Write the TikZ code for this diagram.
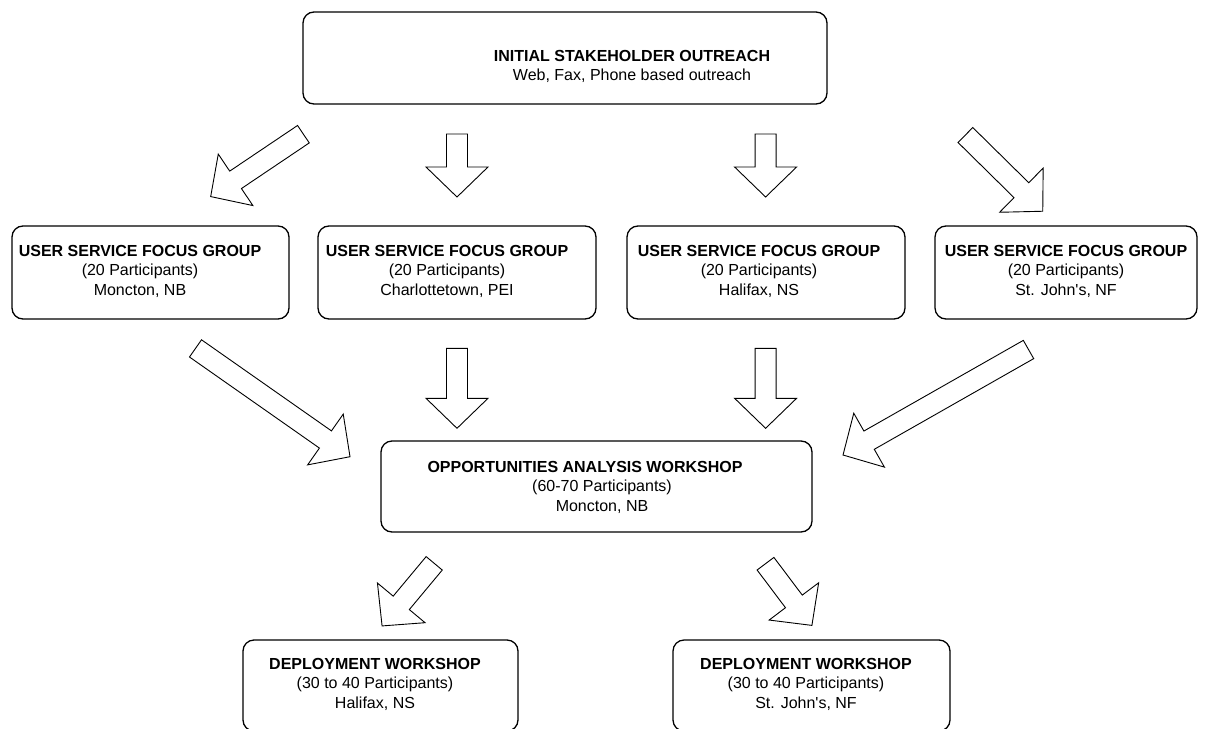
\documentclass[tikz,border=0pt]{standalone}
\usepackage{fontspec}
\setmainfont{Liberation Sans}[Ligatures=TeXOff]
\usetikzlibrary{calc}

\tikzset{
  stage/.style={draw=black, line width=1.3pt, rounded corners=11pt, inner sep=0pt},
  stagetext/.style={anchor=north, align=center, inner sep=0pt,
    font=\fontsize{16}{19.5}\selectfont},
  flowarrow/.style={draw=black, line width=0.9pt, fill=white, line join=miter},
}

% Outlined block arrow from tail centre #1 to tip #2
% (shaft 21pt wide, head 62pt wide and 30pt long)
\newcommand\blockarrow[2]{%
  \draw[flowarrow] let \p1=($(#2)-(#1)$), \n1={atan2(\y1,\x1)}, \n2={veclen(\x1,\y1)} in
    ([shift={(#1)},rotate=\n1]0pt,-10.5pt)
    -- ([shift={(#1)},rotate=\n1]{\n2*1pt-30pt},-10.5pt)
    -- ([shift={(#1)},rotate=\n1]{\n2*1pt-30pt},-31pt)
    -- ([shift={(#1)},rotate=\n1]{\n2*1pt},0pt)
    -- ([shift={(#1)},rotate=\n1]{\n2*1pt-30pt},31pt)
    -- ([shift={(#1)},rotate=\n1]{\n2*1pt-30pt},10.5pt)
    -- ([shift={(#1)},rotate=\n1]0pt,10.5pt)
    -- cycle;}

\begin{document}
\begin{tikzpicture}[x=1pt, y=-1pt]
  \useasboundingbox (0,0) rectangle (1209,728);
  \clip (0,0) rectangle (1209,728);

  % boxes
  \node[stage, minimum width=524pt, minimum height=92pt] (outreach) at (565,58) {};
  \node[stage, minimum width=277pt, minimum height=93pt] (fgM) at (150.5,272.5) {};
  \node[stage, minimum width=278pt, minimum height=93pt] (fgC) at (457,272.5) {};
  \node[stage, minimum width=278pt, minimum height=93pt] (fgH) at (766,272.5) {};
  \node[stage, minimum width=262pt, minimum height=93pt] (fgS) at (1066,272.5) {};
  \node[stage, minimum width=431pt, minimum height=91pt] (oaw) at (596.5,486.5) {};
  \node[stage, minimum width=275pt, minimum height=91pt] (dwH) at (380.5,685.5) {};
  \node[stage, minimum width=277pt, minimum height=91pt] (dwS) at (811.5,685.5) {};

  % box texts
  \node[stagetext, font=\fontsize{16}{18.5}\selectfont] (outreach-t) at (632,50.5)
    {\textbf{INITIAL STAKEHOLDER OUTREACH}\\Web, Fax, Phone based outreach};
  \node[stagetext] (fgM-t) at (140,245)
    {\textbf{USER SERVICE FOCUS GROUP}\\(20 Participants)\\Moncton, NB};
  \node[stagetext] (fgC-t) at (447,245)
    {\textbf{USER SERVICE FOCUS GROUP}\\(20 Participants)\\Charlottetown, PEI};
  \node[stagetext] (fgH-t) at (759,245)
    {\textbf{USER SERVICE FOCUS GROUP}\\(20 Participants)\\Halifax, NS};
  \node[stagetext] (fgS-t) at (1066,245)
    {\textbf{USER SERVICE FOCUS GROUP}\\(20 Participants)\\St. John's, NF};
  \node[stagetext] (oaw-t) at (593.5,461)
    {\textbf{OPPORTUNITIES ANALYSIS WORKSHOP}\hspace*{17pt}\\
     \hspace*{17pt}(60-70 Participants)\\\hspace*{17pt}Moncton, NB};
  \node[stagetext] (dwH-t) at (375,658)
    {\textbf{DEPLOYMENT WORKSHOP}\\(30 to 40 Participants)\\Halifax, NS};
  \node[stagetext] (dwS-t) at (806,658)
    {\textbf{DEPLOYMENT WORKSHOP}\\(30 to 40 Participants)\\St. John's, NF};

  % arrow ends
  \coordinate (o-M-s) at (303.4,134.2);  \coordinate (o-M-e) at (210.5,196.7);
  \coordinate (o-C-s) at (457,134);      \coordinate (o-C-e) at (457,197);
  \coordinate (o-H-s) at (765.6,134);    \coordinate (o-H-e) at (765.6,197);
  \coordinate (o-S-s) at (965.4,135);    \coordinate (o-S-e) at (1043,211.5);
  \coordinate (M-a-s) at (195.5,348.4);  \coordinate (M-a-e) at (350,456.7);
  \coordinate (C-a-s) at (457,348.3);    \coordinate (C-a-e) at (457,428.3);
  \coordinate (H-a-s) at (765.6,348.3);  \coordinate (H-a-e) at (765.6,428.3);
  \coordinate (S-a-s) at (1028.5,349.5); \coordinate (S-a-e) at (843,455);
  \coordinate (a-H-s) at (434.2,563.3);  \coordinate (a-H-e) at (382,626);
  \coordinate (a-S-s) at (765.5,563.7);  \coordinate (a-S-e) at (812,625.5);

  % block arrows
  \blockarrow{o-M-s}{o-M-e}
  \blockarrow{o-C-s}{o-C-e}
  \blockarrow{o-H-s}{o-H-e}
  \blockarrow{o-S-s}{o-S-e}
  \blockarrow{M-a-s}{M-a-e}
  \blockarrow{C-a-s}{C-a-e}
  \blockarrow{H-a-s}{H-a-e}
  \blockarrow{S-a-s}{S-a-e}
  \blockarrow{a-H-s}{a-H-e}
  \blockarrow{a-S-s}{a-S-e}
\end{tikzpicture}
\end{document}
